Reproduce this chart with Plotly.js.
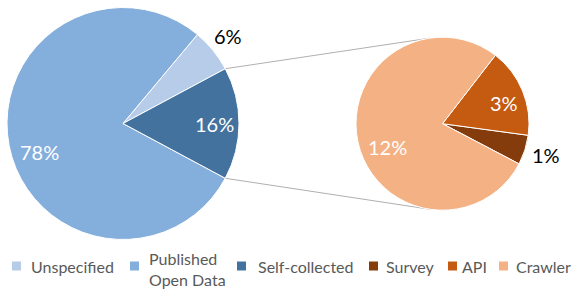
<!DOCTYPE html>
<html><head><meta charset="utf-8">
<script src="https://cdn.plot.ly/plotly-3.0.1.min.js"></script>
<style>html,body{margin:0;padding:0;background:#fff}#chart{width:581px;height:293px}</style>
</head><body><div id="chart"></div>
<script>
// ---- data ----
const mainLabels = ['Unspecified', 'Published<br>Open Data', 'Self-collected'];
const mainValues = [7, 90, 18];
const subLabels = ['Survey', 'API', 'Crawler'];
const subValues = [1, 3, 14];

// ---- styles ----
const mainColors = ['#b6cce8', '#84aedc', '#43729f'];
const subColors = ['#843c0c', '#c55a11', '#f4b183'];
const W = 581, H = 293;
const FONT = 'Lato, "Open Sans", sans-serif';
// label anchor positions (px) and colours, per slice
const mainLabelPos = [[227.5, 36], [39, 151.5], [214, 124]];
const subLabelPos = [[545.5, 155], [504, 103], [388, 146.5]];
const mainLabelColor = ['#000000', '#ffffff', '#ffffff'];
const subLabelColor = ['#ffffff', '#ffffff', '#ffffff'];
subLabelColor[0] = '#000000';
// legend layout (px): square left edge and text left edge, per entry
const legSquareX = [12, 130, 237, 369, 448, 499];
const legTextX = [29, 147, 256, 384, 460, 514];
const legY = 266, legSq = 9;

const total = mainValues.reduce((a, b) => a + b, 0);
const pct = v => Math.round(v / total * 100) + '%';

// pie geometry (pixels)
const P1 = {cx: 123, cy: 123.5, r: 116};
const P2 = {cx: 442.5, cy: 123.7, r: 86.5};
const dom = p => ({
  x: [(p.cx - p.r) / W, (p.cx + p.r) / W],
  y: [(H - (p.cy + p.r)) / H, (H - (p.cy - p.r)) / H]
});

// rotate so the detailed slice (last) is centred on 3 o'clock
const a0 = mainValues[0] / total * 360;
const aLast = mainValues[2] / total * 360;
const rot1 = 90 - a0 - aLast / 2;

const trace1 = {
  type: 'pie', labels: mainLabels, values: mainValues, sort: false,
  direction: 'counterclockwise', rotation: rot1,
  domain: dom(P1),
  marker: {colors: mainColors, line: {color: '#ffffff', width: 1}},
  textinfo: 'none', hoverinfo: 'label+percent', showlegend: false
};
const trace2 = {
  type: 'pie', labels: subLabels, values: subValues, sort: false,
  direction: 'counterclockwise', rotation: 97.7,
  domain: dom(P2),
  marker: {colors: subColors, line: {color: '#ffffff', width: 1}},
  textinfo: 'none', hoverinfo: 'label+percent', showlegend: false
};

// connector lines: from edges of detailed slice to tangent points on second pie
function edgePt(angDeg) {
  const t = angDeg * Math.PI / 180;
  return [P1.cx + P1.r * Math.sin(t), P1.cy - P1.r * Math.cos(t)];
}
function tangent(pt, upper) {
  const dx = pt[0] - P2.cx, dy = -(pt[1] - P2.cy);
  const d = Math.hypot(dx, dy);
  const base = Math.atan2(dy, dx);
  const off = Math.acos(P2.r / d);
  const ang = upper ? base - off : base + off;
  return [P2.cx + P2.r * Math.cos(ang), P2.cy - P2.r * Math.sin(ang)];
}
const upStart = edgePt(90 - aLast / 2), loStart = edgePt(90 + aLast / 2);
const upEnd = tangent(upStart, true), loEnd = tangent(loStart, false);
const px = x => x / W, py = y => 1 - y / H;
const line = (s, e) => ({
  type: 'line', xref: 'paper', yref: 'paper', layer: 'below',
  x0: px(s[0]), y0: py(s[1]), x1: px(e[0]), y1: py(e[1]),
  line: {color: '#b0b0b0', width: 1}
});

const shapes = [line(upStart, upEnd), line(loStart, loEnd)];
const annotations = [];

// slice labels
mainValues.forEach((v, i) => annotations.push({
  xref: 'paper', yref: 'paper', x: px(mainLabelPos[i][0]), y: py(mainLabelPos[i][1]),
  xanchor: 'center', yanchor: 'middle', showarrow: false, text: pct(v),
  font: {family: FONT, size: 20, color: mainLabelColor[i]}
}));
subValues.forEach((v, i) => annotations.push({
  xref: 'paper', yref: 'paper', x: px(subLabelPos[i][0]), y: py(subLabelPos[i][1]),
  xanchor: 'center', yanchor: 'middle', showarrow: false, text: pct(v),
  font: {family: FONT, size: 20, color: subLabelColor[i]}
}));

// legend
const legLabels = mainLabels.concat(subLabels);
const legColors = mainColors.concat(subColors);
legLabels.forEach((lab, i) => {
  const x0 = legSquareX[i];
  shapes.push({
    type: 'rect', xref: 'paper', yref: 'paper',
    x0: px(x0), x1: px(x0 + legSq), y0: py(legY - legSq / 2), y1: py(legY + legSq / 2),
    fillcolor: legColors[i], line: {width: 0}
  });
  const lines = lab.split('<br>').length;
  annotations.push({
    xref: 'paper', yref: 'paper', x: px(legTextX[i]), y: py(legY + (lines - 1) * 2.5),
    xanchor: 'left', yanchor: 'middle', align: 'left', showarrow: false, text: lab,
    font: {family: FONT, size: 16, color: '#595959'}
  });
});

const layout = {
  width: W, height: H,
  margin: {l: 0, r: 0, t: 0, b: 0},
  paper_bgcolor: '#ffffff',
  font: {family: FONT, color: '#595959'},
  showlegend: false,
  shapes: shapes,
  annotations: annotations
};
Plotly.newPlot('chart', [trace1, trace2], layout, {displayModeBar: false, staticPlot: true});
</script>
</body></html>
